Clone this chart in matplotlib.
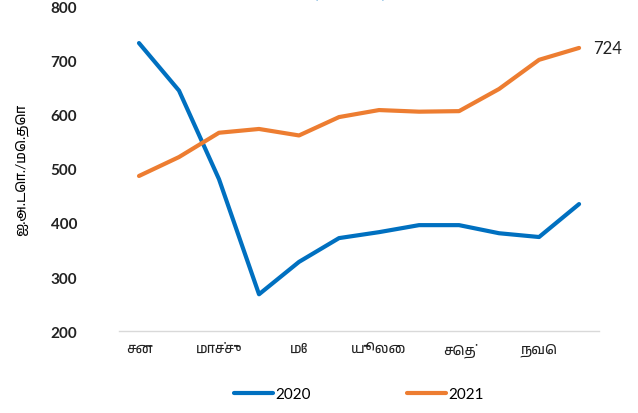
import matplotlib.pyplot as plt
from matplotlib import font_manager

# மாதங்கள் மற்றும் விலைகள் (ஐ.அ.டொ./மெ.தொ)
months = ['சன', 'பெப்', 'மாச்சு', 'ஏப்', 'மே', 'யூன்', 'யூலை', 'ஓக', 'செத்', 'ஒக்', 'நவெ', 'திச']
price_2020 = [733, 645, 481, 268, 328, 372, 383, 396, 396, 381, 374, 435]
price_2021 = [487, 522, 567, 574, 562, 596, 609, 606, 607, 648, 702, 724]

tamil = [f.name for f in font_manager.fontManager.ttflist if 'Tamil' in f.name]
plt.rcParams['font.family'] = ['Lato'] + tamil[:1] + ['DejaVu Sans']

fig = plt.figure(figsize=(6.38, 4.14), dpi=100)
ax = fig.add_axes([0.1865, 0.198, 0.7525, 0.783])

x = list(range(len(months)))
ax.plot(x, price_2020, color='#0070C0', lw=3, label='2020', solid_capstyle='round')
ax.plot(x, price_2021, color='#ED7D31', lw=3, label='2021', solid_capstyle='round')

ax.annotate(str(price_2021[-1]), (x[-1], price_2021[-1]), xytext=(10, 0),
            textcoords='offset points', va='center', fontsize=12, color='#222222')

ax.set_xlim(-0.5, 11.5)
ax.set_ylim(200, 800)
ax.set_yticks(range(200, 801, 100))
ax.set_xticks(x[::2])
ax.set_xticklabels(months[::2], fontsize=10)
ax.tick_params(axis='both', length=0, colors='#222222')
ax.tick_params(axis='x', labelsize=10, pad=8)
ax.tick_params(axis='y', labelsize=11, pad=30)
for lbl in ax.get_yticklabels():
    lbl.set_fontweight('bold')
for s in ['top', 'right', 'left']:
    ax.spines[s].set_visible(False)
ax.spines['bottom'].set_color('#D9D9D9')
ax.spines['bottom'].set_linewidth(1)

ax.set_ylabel('ஐ.அ.டொ./மெ.தொ', fontsize=10, labelpad=16)

# மேலே வெட்டப்பட்ட தலைப்பு (அடிப்பகுதி மட்டும் தெரியும்)
fig.text(0.548, 1.0 + 1.5 / 414, '(2020-21)', color='#0070C0', fontsize=12,
         ha='center', va='baseline', fontweight='bold')

fig.legend(loc='lower center', bbox_to_anchor=(0.562, -0.005), ncol=2, frameon=False,
           fontsize=11, handlelength=2.6, handletextpad=0.1, columnspacing=6.3)

fig.savefig('out.png', dpi=100)
